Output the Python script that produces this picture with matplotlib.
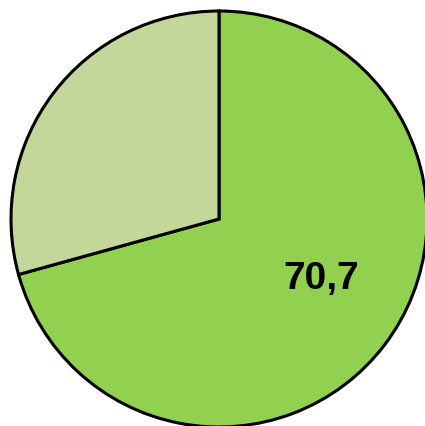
import matplotlib
matplotlib.use("Agg")
import matplotlib.pyplot as plt

# shares (percent)
values = [70.7, 29.3]
colors = ["#92D050", "#C4D79B"]
label_text = "70,7"

fig = plt.figure(figsize=(4.25, 4.26), dpi=100)
# pie circle: centre ~(219, 219) from top-left, radius ~208 px
ax = fig.add_axes([11 / 425, -1 / 426, 416 / 425, 416 / 426])
ax.pie(values, colors=colors, startangle=90, counterclock=False, radius=1,
       wedgeprops=dict(edgecolor="black", linewidth=2.2))
ax.set_xlim(-1, 1)
ax.set_ylim(-1, 1)
ax.set_aspect("equal")
ax.axis("off")

ax.text(0.49, -0.29, label_text, ha="center", va="center", fontsize=28,
        fontweight="bold", family=["Liberation Sans", "DejaVu Sans"])

fig.savefig("out.png", dpi=100)
